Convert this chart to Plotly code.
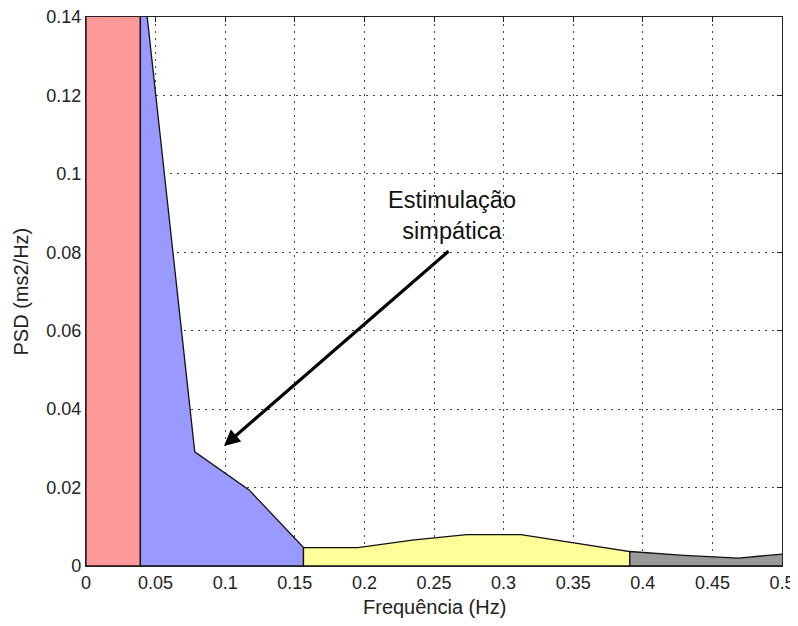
import plotly.graph_objects as go

# Frequency bins (Hz) and PSD values (ms2/Hz)
freq = [0.0, 0.0390625, 0.078125, 0.1171875, 0.15625, 0.1953125, 0.234375,
        0.2734375, 0.3125, 0.3515625, 0.390625, 0.4296875, 0.46875, 0.5078125]
psd = [0.30, 0.156, 0.0291, 0.0194, 0.0047, 0.0047, 0.0066,
       0.0080, 0.0080, 0.0059, 0.0037, 0.0027, 0.0020, 0.0033]

# bands: name, start index, end index, colour
band_names = ["VLF", "LF", "HF", "rest"]
band_start = [0, 1, 4, 10]
band_end = [1, 4, 10, 13]
band_colors = ["#FF9999", "#9999FF", "#FFFF99", "#999999"]

x_ticks = [0, 0.05, 0.1, 0.15, 0.2, 0.25, 0.3, 0.35, 0.4, 0.45, 0.5]
x_ticktext = ["0", "0.05", "0.1", "0.15", "0.2", "0.25", "0.3", "0.35", "0.4", "0.45", "0.5"]
y_ticks = [0, 0.02, 0.04, 0.06, 0.08, 0.1, 0.12, 0.14]
y_ticktext = ["0", "0.02", "0.04", "0.06", "0.08", "0.1", "0.12", "0.14"]

x_title = "Frequência (Hz)"
y_title = "PSD (ms2/Hz)"
annot_text = "Estimulação<br>simpática"
annot_pos = (0.263, 0.0895)
arrow_tail = (0.2615, 0.0806)
arrow_tip = (0.0991, 0.0306)

fig = go.Figure()
for name, i0, i1, col in zip(band_names, band_start, band_end, band_colors):
    xs = freq[i0:i1 + 1] + [freq[i1], freq[i0], freq[i0]]
    ys = psd[i0:i1 + 1] + [0, 0, psd[i0]]
    fig.add_trace(go.Scatter(x=xs, y=ys, mode="lines", fill="toself",
                             fillcolor=col, line=dict(color="#111111", width=1.3),
                             name=name, showlegend=False, hoverinfo="skip"))

font = "Liberation Sans, Arial, sans-serif"
axis_common = dict(showline=True, linecolor="#222222", linewidth=1.3, mirror="ticks",
                   ticks="inside", ticklen=5, tickcolor="#222222",
                   showgrid=True, gridcolor="#444444", gridwidth=1, griddash="2px,5px",
                   zeroline=False, automargin=False, ticklabeloverflow="allow",
                   tickfont=dict(family=font, size=18, color="#222222"))

# page body has an 8px margin, so the figure is sized/offset to compensate
fig.update_layout(
    width=790, height=610,
    margin=dict(l=78, r=16, t=9, b=52),
    paper_bgcolor="white", plot_bgcolor="white",
    xaxis=dict(range=[0, 0.5], tickvals=x_ticks, ticktext=x_ticktext,
               layer="below traces", **axis_common),
    yaxis=dict(range=[0, 0.14], tickvals=y_ticks, ticktext=y_ticktext,
               layer="below traces", **axis_common),
)

# axis titles
fig.add_annotation(x=0.5, y=0, xref="x domain", yref="y domain", yanchor="middle", yshift=-41,
                   text=x_title, showarrow=False,
                   font=dict(family=font, size=20, color="#222222"))
fig.add_annotation(x=0, y=0.5, xref="x domain", yref="y domain", xanchor="center", xshift=-66,
                   text=y_title, textangle=-90, showarrow=False,
                   font=dict(family=font, size=20, color="#222222"))

fig.add_annotation(x=annot_pos[0], y=annot_pos[1], xref="x", yref="y", text=annot_text,
                   showarrow=False, font=dict(family=font, size=23.5, color="#111111"),
                   align="center")
fig.add_annotation(x=arrow_tip[0], y=arrow_tip[1], ax=arrow_tail[0], ay=arrow_tail[1],
                   xref="x", yref="y", axref="x", ayref="y", text="", showarrow=True,
                   arrowhead=2, arrowsize=1.0, arrowwidth=3.2, arrowcolor="#000000")

fig.write_html("out.html")
